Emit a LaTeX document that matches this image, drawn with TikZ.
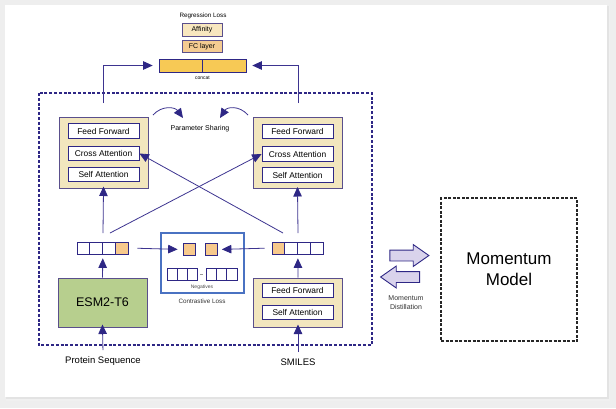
\documentclass[tikz,border=0pt]{standalone}
\usepackage{fontspec}
\setmainfont{Liberation Sans}
\usetikzlibrary{arrows.meta,shapes.arrows}
\definecolor{navy}{HTML}{2E2785}
\definecolor{arrline}{HTML}{3D3490}
\definecolor{boxline}{HTML}{5A4F8C}
\definecolor{cream}{HTML}{F2E6BE}
\definecolor{tok}{HTML}{F7C98C}
\definecolor{catfill}{HTML}{F7C955}
\definecolor{fcfill}{HTML}{F4CB91}
\definecolor{afffill}{HTML}{F8E7BF}
\definecolor{esmgreen}{HTML}{B7CF8E}
\definecolor{clblue}{HTML}{4A72C2}
\definecolor{lavender}{HTML}{D9D3EC}
\definecolor{outer}{HTML}{EEEEEE}
\newcommand\fsz[1]{\fontsize{#1}{#1}\selectfont}
\newcommand\cells[6]{
    \foreach \col [count=\i] in {#6}
        \node[cell, minimum width=#4, minimum height=#5, fill=\col] (#1\i) at ({#2+(\i-0.5)*#4},#3) {};
}
\tikzset{
    block/.style={draw=boxline, fill=cream, line width=1pt, minimum width=89pt, inner sep=0pt},
    layer/.style={draw=navy, fill=white, line width=0.8pt, minimum width=71pt, minimum height=14.5pt, inner sep=0pt},
    cell/.style={draw=navy, line width=0.7pt, inner sep=0pt},
    topbox/.style={draw=boxline, line width=0.8pt, minimum width=40pt, minimum height=12.5pt, inner sep=0pt, font=\fsz{7}},
    arr/.style={draw=arrline, line width=0.8pt, -{Triangle[length=9.5pt,width=8.5pt,color=navy]}},
    fat/.style={single arrow, draw=navy, fill=lavender, line width=0.9pt, minimum height=39pt,
        inner xsep=0pt, inner ysep=5pt, single arrow head extend=5.5pt, single arrow tip angle=70,
        single arrow head indent=0pt}
}
\begin{document}
\begin{tikzpicture}[x=1pt,y=-1pt,font=\fsz{8.4}]
    \fill[outer] (0,0) rectangle (616,408);
    \fill[black!6] (6,6) rectangle (610,401);
    \fill[black!11] (6,6) rectangle (608.5,399);
    \fill[white] (5,5) rectangle (607,397);
    \useasboundingbox (0,0) rectangle (616,408);

    % head
    \node[font=\fsz{6.3}] (regl) at (203,16) {Regression Loss};
    \node[topbox, fill=afffill] (aff) at (202,30) {Affinity};
    \node[topbox, fill=fcfill] (fc) at (202,46.5) {FC layer};
    \cells{cat}{159}{65.5}{43.5}{13}{catfill,catfill}
    \node[font=\fsz{5}] (catlbl) at (202.5,78) {concat};

    \draw[navy, line width=1.6pt, dash pattern=on 3pt off 1.8pt] (39,93) rectangle (372,345);

    % encoders
    \node[block, minimum height=71pt] (lenc) at (103.5,152.5) {};
    \node[layer] (lff) at (103.5,131) {Feed Forward};
    \node[layer] (lca) at (103.5,153.5) {Cross Attention};
    \node[layer] (lsa) at (103.5,174.5) {Self Attention};
    \node[block, minimum height=71pt] (renc) at (297.5,153) {};
    \node[layer] (rff) at (297.5,131.5) {Feed Forward};
    \node[layer] (rca) at (297.5,154) {Cross Attention};
    \node[layer] (rsa) at (297.5,175) {Self Attention};
    \node[block, fill=esmgreen, minimum height=49pt, font=\fsz{12.5}] (esm) at (102.5,302.5) {ESM2-T6};
    \node[block, minimum height=49pt] (senc) at (298,302.5) {};
    \node[layer] (sff) at (297.5,290.5) {Feed Forward};
    \node[layer] (ssa) at (297.5,312.5) {Self Attention};

    \node[font=\fsz{7}] (psh) at (200,129) {Parameter Sharing};
    \coordinate (lsh) at (153,115);
    \coordinate (lshe) at (183,118);
    \coordinate (rsh) at (248,115);
    \coordinate (rshe) at (220,118);
    \draw[arr] (lsh) .. controls (162,105) and (175,107) .. (lshe);
    \draw[arr] (rsh) .. controls (239,105) and (227,107) .. (rshe);

    % tokens and contrastive loss
    \cells{ltok}{77}{248}{12.75}{12}{white,white,white,tok}
    \cells{rtok}{272}{248}{12.75}{12}{tok,white,white,white}
    \node[draw=clblue, line width=1.4pt, minimum width=83pt, minimum height=60pt] (cl) at (202.5,263) {};
    \node[cell, fill=tok, minimum size=12pt] (pos1) at (189,249.5) {};
    \node[cell, fill=tok, minimum size=12pt] (pos2) at (211.5,249.5) {};
    \cells{nega}{167}{274}{10.2}{12}{white,white,white}
    \cells{negb}{206}{274}{10.3}{12}{white,white,white}
    \draw[black!40, line width=0.6pt, shorten <=2.5pt, shorten >=2.5pt] (nega3.east) -- (negb1.west);
    \node[font=\fsz{5}, text=black!70] (neglbl) at (202,287) {Negatives};
    \node[font=\fsz{6.3}, text=black!80] (cllbl) at (202,301) {Contrastive Loss};

    \coordinate (lup) at (103,103);
    \coordinate (rup) at (298,103);
    \coordinate (lvert) at (103,233);
    \coordinate (lcross) at (110,233);
    \coordinate (rvert) at (298,233);
    \coordinate (rcross) at (283,233);
    \draw[arr, shorten >=6pt] (lup) |- (cat1.west);
    \draw[arr, shorten >=6pt] (rup) |- (cat2.east);
    \draw[arr, shorten >=-2pt] (lvert) -- (lenc.south);
    \draw[arr, shorten >=-2pt] (rvert) -- (renc.south);
    \draw[arr] (lcross) -- (rca.west);
    \draw[arr] (rcross) -- (lca.east);
    \draw[arr, shorten >=4pt] (esm.north) -- (ltok2.south east);
    \draw[arr, shorten >=4pt] (senc.north) -- (rtok2.south east);
    \draw[arr, shorten <=9pt, shorten >=5pt] (ltok4.east) -- (pos1.west);
    \draw[arr, shorten <=7pt, shorten >=4pt] (rtok1.west) -- (pos2.east);

    \node[font=\fsz{9.5}] (pseq) at (103,361) {Protein Sequence};
    \node[font=\fsz{9.5}] (smiles) at (298,362) {SMILES};
    \draw[arr, shorten <=3pt, shorten >=-3pt] (pseq.north) -- (esm.south);
    \draw[arr, shorten <=3pt, shorten >=-3pt] (smiles.north) -- (senc.south);

    % momentum side
    \node[fat] (dfwd) at (405.5,255.5) {};
    \node[fat, shape border rotate=180] (dback) at (404,277) {};
    \node[font=\fontsize{7}{9}\selectfont, align=center, text=black!80] (distl) at (406,302.5) {Momentum\\Distillation};
    \node[draw=black!85, line width=1.3pt, dash pattern=on 3pt off 1.5pt, minimum width=136pt,
        minimum height=143pt, align=center, font=\fontsize{17}{21}\selectfont] (mom) at (509,269.5) {Momentum\\Model};
\end{tikzpicture}
\end{document}
